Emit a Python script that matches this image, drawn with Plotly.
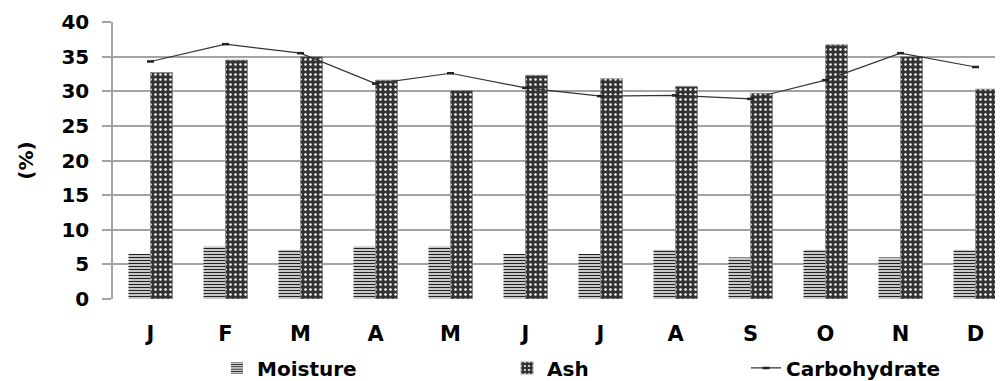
import plotly.graph_objects as go

months = ["J", "F", "M", "A", "M", "J", "J", "A", "S", "O", "N", "D"]
moisture = [6.5, 7.6, 7.1, 7.6, 7.6, 6.5, 6.5, 7.1, 6.0, 7.1, 6.0, 7.1]
ash = [32.7, 34.5, 35.0, 31.6, 30.1, 32.3, 31.8, 30.7, 29.7, 36.7, 35.0, 30.3]
carbohydrate = [34.3, 36.8, 35.5, 31.1, 32.6, 30.5, 29.3, 29.4, 28.9, 31.6, 35.5, 33.5]
y_ticks = [0, 5, 10, 15, 20, 25, 30, 35, 40]

x = list(range(len(months)))
FONT = "DejaVu Sans"
GRID = "#a3a3a3"

# page body has an 8px margin, so the figure is offset by 8px
ML, MT, MB = 105, 14, 90
PLOT_W = 1003 - ML

fig = go.Figure()
fig.add_trace(go.Bar(
    x=x, y=moisture, name="Moisture", legend="legend",
    marker=dict(color="white", line=dict(width=0),
                pattern=dict(shape="-", fgcolor="#222222", bgcolor="white",
                             fgopacity=1, size=3, solidity=0.5)),
))
fig.add_trace(go.Bar(
    x=x, y=ash, name="Ash", legend="legend2",
    marker=dict(color="#333333", line=dict(width=0.8, color="#888888"),
                pattern=dict(shape=".", fgcolor="white", bgcolor="#333333",
                             fgopacity=1, size=5, solidity=0.2)),
))
fig.add_trace(go.Scatter(
    x=x, y=carbohydrate, name="Carbohydrate", legend="legend3",
    mode="lines+markers",
    line=dict(color="#333333", width=1.2),
    marker=dict(symbol="line-ew", size=5, line=dict(width=2.5, color="#222222")),
))

legend_font = dict(family=FONT, size=20, color="black", weight="bold")
def leg(px):
    return dict(x=(px - ML) / PLOT_W, xanchor="left", y=-0.249, yanchor="middle",
                font=legend_font, bgcolor="rgba(0,0,0,0)", borderwidth=0)

fig.update_layout(
    width=1003, height=381,
    margin=dict(l=ML, r=0, t=MT, b=MB, autoexpand=False),
    paper_bgcolor="white", plot_bgcolor="white",
    barmode="group", bargap=0.413, bargroupgap=0,
    font=dict(family=FONT, color="black"),
    showlegend=True,
    legend=leg(209),
    legend2=leg(499),
    legend3=leg(738),
    xaxis=dict(
        range=[-0.5, -0.5 + PLOT_W / 75.0], tickmode="array", tickvals=x, ticktext=months,
        showgrid=False, showline=False, zeroline=False, ticks="",
        automargin=False,
        tickfont=dict(family=FONT, size=21, color="black", weight="bold"),
        ticklabelstandoff=20,
    ),
    yaxis=dict(
        range=[0, 40], tickmode="array", tickvals=y_ticks,
        showgrid=True, gridcolor=GRID, gridwidth=1.5,
        zeroline=False, showline=True, linecolor=GRID, linewidth=1.5,
        ticks="outside", ticklen=9, tickcolor=GRID, tickwidth=1.5,
        automargin=False, ticklabelstandoff=9,
        tickfont=dict(family=FONT, size=20, color="black", weight="bold"),
        title=dict(text="(%)", font=dict(family=FONT, size=20, color="black", weight="bold"),
                   standoff=22),
    ),
)

fig.write_html("out.html")
